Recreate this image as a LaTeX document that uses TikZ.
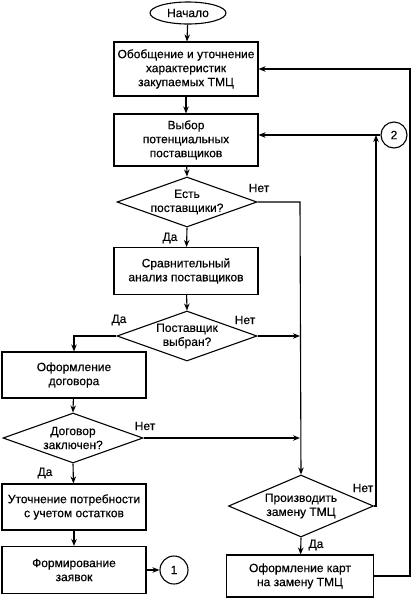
\documentclass[tikz,border=0pt]{standalone}
\usepackage{fontspec}
\setmainfont{Liberation Sans}
\newfontfamily\dfont[FakeBold=0.4]{Liberation Sans}
\usetikzlibrary{shapes.geometric,arrows.meta}
\begin{document}
\begin{tikzpicture}[x=1pt,y=-1pt,
  every node/.style={font=\dfont\fontsize{12}{14}\selectfont, align=center},
  box/.style={draw, line width=1.1pt, rectangle, inner sep=0pt},
  dia/.style={draw, line width=1.1pt, diamond, inner sep=0pt},
  conn/.style={draw, line width=1.1pt},
  arr/.style={conn, -{Stealth[length=7pt,width=5.5pt]}},
  lbl/.style={inner sep=1pt}]
\useasboundingbox (0,0) rectangle (412,598);
\node[draw, line width=1.1pt, ellipse, minimum width=76pt, minimum height=22pt, inner sep=0pt] (start) at (188,13) {Начало};
\node[box, minimum width=144pt, minimum height=54pt] (b1) at (186,69) {Обобщение и уточнение\\характеристик\\закупаемых ТМЦ};
\node[box, minimum width=144pt, minimum height=52pt] (b2) at (186,140) {Выбор\\потенциальных\\поставщиков};
\node[dia, minimum width=140pt, minimum height=50pt] (d1) at (187,202) {};
\node (d1t) at (d1) {Есть\\поставщики?};
\node[box, minimum width=144pt, minimum height=47pt] (b3) at (186,271) {Сравнительный\\анализ поставщиков};
\node[dia, minimum width=140pt, minimum height=50pt] (d2) at (187,336) {};
\node (d2t) at (d2) {Поставщик\\выбран?};
\node[box, minimum width=144pt, minimum height=46pt] (b4) at (74,375) {Оформление\\договора};
\node[dia, minimum width=140pt, minimum height=50pt] (d3) at (73,438) {};
\node (d3t) at (d3) {Договор\\заключен?};
\node[box, minimum width=144pt, minimum height=46pt] (b5) at (74,507) {Уточнение потребности\\с учетом остатков};
\node[box, minimum width=144pt, minimum height=47pt] (b6) at (74,570) {Формирование\\заявок};
\node[draw, line width=1.1pt, circle, minimum size=28pt, inner sep=0pt] (c1) at (174,570) {1};
\node[dia, minimum width=145pt, minimum height=62pt] (d4) at (301,506) {};
\node (d4t) at (d4) {Производить\\замену ТМЦ};
\node[box, minimum width=147pt, minimum height=42pt] (b7) at (300,576) {Оформление карт\\на замену ТМЦ};
\node[draw, line width=1.1pt, circle, minimum size=26pt, inner sep=0pt] (c2) at (394,135) {2};
\coordinate (j1) at (300,202);
\coordinate (j2) at (300,336);
\coordinate (j3) at (300,438);
\coordinate (k1) at (376,506);
\coordinate (k2) at (376,135);
\coordinate (m1) at (410,577);
\coordinate (m2) at (410,69);
\coordinate (l1) at (74,336);
% connectors
\draw[arr] (start) -- (b1);
\draw[arr] (b1) -- (b2);
\draw[arr] (b2) -- (d1.north);
\draw[arr] (d1.south) -- (b3);
\draw[arr] (b3) -- (d2.north);
\draw[arr] (d2.west) -- (l1) -- (b4.north);
\draw[arr] (d2.east) -- (j2);
\draw[arr] (d1.east) -- (j1) -- (d4.north);
\draw[arr] (b4) -- (d3.north);
\draw[arr] (d3.east) -- (j3);
\draw[arr] (d3.south) -- (b5);
\draw[arr] (b5) -- (b6);
\draw[arr] (b6.east) -- (c1);
\draw[arr] (d4.east) -- (k1) -- (k2);
\draw[arr] (c2.west) -- (c2.west -| b2.east);
\draw[arr] (d4.south) -- (b7);
\draw[arr] (b7.east) -- (b7.east -| m1) -- (m2) -- (b1.east);
% labels
\node[lbl] (t1) at (259,188) {Нет};
\node[lbl] (t2) at (170,238) {Да};
\node[lbl] (t3) at (119,320) {Да};
\node[lbl] (t4) at (245,320) {Нет};
\node[lbl] (t5) at (145,426) {Нет};
\node[lbl] (t6) at (45,473) {Да};
\node[lbl] (t7) at (363,488) {Нет};
\node[lbl] (t8) at (316,545) {Да};
\end{tikzpicture}
\end{document}
